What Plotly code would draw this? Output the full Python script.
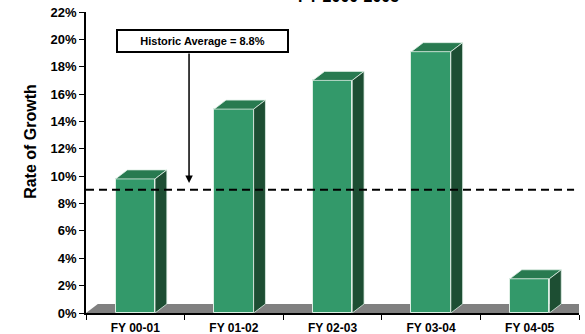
import plotly.graph_objects as go

categories = ["FY 00-01", "FY 01-02", "FY 02-03", "FY 03-04", "FY 04-05"]
growth = [9.8, 14.9, 17.0, 19.1, 2.5]
average_line = 9.0
average_label = "Historic Average = 8.8%"
title_text = "FY 2000-2005"
y_ticks = list(range(0, 23, 2))

FRONT = "#33996A"
TOP = "#287A50"
SIDE = "#1D4E33"
EDGE = "#DDEFE4"
FLOOR = "#808080"

W = 0.4      # front face width (category units)
DX = 0.12    # depth offset in x (category units)
DY = 0.66    # depth offset in y (percent units)

xs = list(range(len(categories)))
fig = go.Figure()

# floor
n = len(categories)
fig.add_shape(type="path", xref="x", yref="y", layer="below",
              path=f"M -0.5,0 L {n-0.5},0 L {n-0.5+DX},{DY} L {-0.5+DX},{DY} Z",
              fillcolor=FLOOR, line=dict(width=0))

# front faces
fig.add_trace(go.Bar(x=xs, y=growth, width=W, marker=dict(color=FRONT, line=dict(color=EDGE, width=1)),
                     hoverinfo="skip", showlegend=False))

# top and side faces
for x, v in zip(xs, growth):
    l, r = x - W / 2, x + W / 2
    fig.add_trace(go.Scatter(x=[l, r, r + DX, l + DX, l], y=[v, v, v + DY, v + DY, v],
                             fill="toself", fillcolor=TOP, mode="lines",
                             line=dict(color=EDGE, width=0.8), hoverinfo="skip", showlegend=False))
    fig.add_trace(go.Scatter(x=[r, r + DX, r + DX, r, r], y=[0, DY, v + DY, v, 0],
                             fill="toself", fillcolor=SIDE, mode="lines",
                             line=dict(color=EDGE, width=0.8), hoverinfo="skip", showlegend=False))

# average dashed line
fig.add_trace(go.Scatter(x=[-0.5, n - 0.55], y=[average_line, average_line], mode="lines",
                         line=dict(color="black", width=2, dash="8px,5px"),
                         hoverinfo="skip", showlegend=False))

fig.update_layout(
    width=585, height=334,
    margin=dict(l=86, r=6, t=12, b=21),
    plot_bgcolor="white", paper_bgcolor="white",
    font=dict(family="Arial, Liberation Sans, sans-serif", color="black"),
    bargap=0,
)
fig.update_xaxes(range=[-0.5, n - 0.5], tickvals=xs, ticktext=categories, ticks="",
                 tickfont=dict(size=12, weight="bold"), ticklabelstandoff=3, automargin=False,
                 showline=True, linecolor="black", linewidth=1.5,
                 showgrid=False, zeroline=False,
                 minor=dict(tick0=-0.5, dtick=1, ticks="outside", ticklen=5, tickcolor="black", tickwidth=1))
fig.update_yaxes(range=[0, 22], tickvals=y_ticks, ticktext=[f"{t}%" for t in y_ticks],
                 ticks="outside", ticklen=5, tickcolor="black", automargin=False,
                 tickfont=dict(size=13, weight="bold"), showline=True, linecolor="black", linewidth=1.5,
                 showgrid=False, zeroline=False)

# y title
fig.add_annotation(text="Rate of Growth", xref="paper", yref="paper", x=-0.134, y=0.57,
                   textangle=-90, showarrow=False, font=dict(size=16, weight="bold"))
# chart title (cut off at the top)
fig.add_annotation(text=title_text, xref="paper", yref="paper", x=0.533, y=1.018,
                   yanchor="bottom", showarrow=False, font=dict(size=16, weight="bold"))
# arrow
fig.add_annotation(text="", x=0.545, y=9.5, xref="x", yref="y", axref="x", ayref="y",
                   ax=0.545, ay=19.07, showarrow=True, arrowhead=2, arrowsize=1, arrowwidth=1.5,
                   arrowcolor="black")
# label box
fig.add_annotation(text=average_label, x=0.683, y=19.88, xref="x", yref="y", showarrow=False,
                   bgcolor="white", bordercolor="black", borderwidth=2, borderpad=1,
                   width=167, height=18, font=dict(size=11, weight="bold"))

fig.write_html("out.html")
